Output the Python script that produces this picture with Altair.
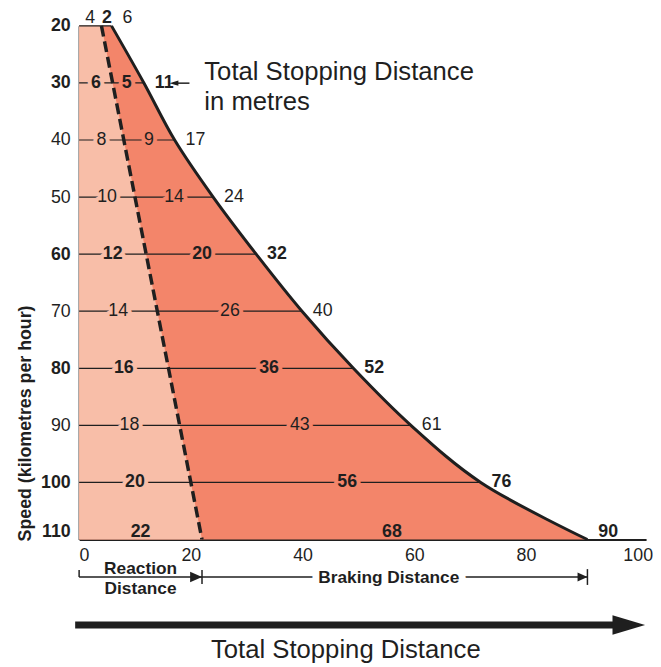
import altair as alt
import pandas as pd

# ---------------- data ----------------
speed = [20, 30, 40, 50, 60, 70, 80, 90, 100, 110]
reaction = [4, 6, 8, 10, 12, 14, 16, 18, 20, 22]
braking = [2, 5, 9, 14, 20, 26, 36, 43, 56, 68]
total = [6, 11, 17, 24, 32, 40, 52, 61, 76, 90]
# where the drawn total-distance curve crosses each speed line
curve = [5.8, 11.6, 17.1, 24.0, 31.7, 39.9, 49.1, 59.4, 71.9, 91.0]
x_ticks = [0, 20, 40, 60, 80, 100]

# ---------------- styling ----------------
BOLD_ROWS = [30, 60, 80, 100, 110]
BOLD_YLABELS = [20, 30, 60, 80, 100, 110]
LIGHT = "#F8BEA8"
DARK = "#F3856A"
INK = "#1f1f1f"
FONT = "Liberation Sans"
FS = 18

rows = pd.DataFrame({"speed": speed, "reaction": reaction, "braking": braking,
                     "total": total, "curve": curve})
rows["zero"] = 0

lab = []
for s, r, b, t, c in zip(speed, reaction, braking, total, curve):
    grp = "top" if s == speed[0] else ("bottom" if s == speed[-1] else "mid")
    bold = s in BOLD_ROWS
    lab.append(dict(speed=s, x=r / 2, text=str(r), kind="reaction",
                    weight="bold" if bold else "normal", group=grp))
    lab.append(dict(speed=s, x=r + b / 2, text=str(b), kind="braking",
                    weight="bold" if (bold or s == speed[0]) else "normal", group=grp))
    lab.append(dict(speed=s, x=c, text=str(t), kind="total",
                    weight="bold" if bold else "normal", group=grp))
labels = pd.DataFrame(lab)

dummy = pd.DataFrame({"k": [0]})

xs = alt.Scale(domain=[0, 101.5], nice=False, zero=False)
ys = alt.Scale(domain=[20, 110], reverse=True, nice=False, zero=False)

xaxis = alt.Axis(values=x_ticks, title=None, ticks=False, tickSize=0, grid=False,
                 domainColor=INK, domainWidth=2, labelFont=FONT, labelFontSize=FS,
                 labelColor=INK, labelPadding=7)
yaxis = alt.Axis(values=speed, title="Speed (kilometres per hour)", ticks=False, tickSize=0,
                 grid=False, domainColor=INK, domainWidth=2, labelFont=FONT,
                 labelFontSize=FS, labelColor=INK, labelPadding=9,
                 labelFontWeight={"condition": {"test": "indexof(%s, datum.value) >= 0" % BOLD_YLABELS,
                                                "value": "bold"}, "value": "normal"},
                 labelOffset={"condition": {"test": "datum.value == 110", "value": -8}, "value": 0},
                 titleFont=FONT, titleFontSize=18, titleFontWeight="bold", titleColor=INK,
                 titleAngle=270, titleX=-54, titleY=402, titleAlign="center",
                 titleBaseline="middle")


def X(field, **kw):
    return alt.X(field, type="quantitative", scale=xs, axis=xaxis, **kw)


def Y(field="speed"):
    return alt.Y(field, type="quantitative", scale=ys, axis=yaxis)


layers = []

# braking (dark) area: from 0 to the total-distance curve
layers.append(alt.Chart(rows).mark_area(orient="horizontal", color=DARK, opacity=1,
                                        interpolate="catmull-rom")
              .encode(x=X("zero"), x2="curve:Q", y=Y()))
# reaction (light) area
layers.append(alt.Chart(rows).mark_area(orient="horizontal", color=LIGHT, opacity=1)
              .encode(x=X("zero"), x2="reaction:Q", y=Y()))

# horizontal speed lines
layers.append(alt.Chart(rows).transform_filter("datum.speed < 110")
              .mark_rule(color=INK, strokeWidth=1.2)
              .encode(x=X("zero"), x2="curve:Q", y=Y()))

# reaction boundary (dashed)
layers.append(alt.Chart(rows).mark_line(color=INK, strokeWidth=3.5, strokeDash=[11, 5])
              .encode(x=X("reaction"), y=Y(), order="speed:Q"))
# total boundary
layers.append(alt.Chart(rows).mark_line(color=INK, strokeWidth=3, interpolate="catmull-rom")
              .encode(x=X("curve"), y=Y(), order="speed:Q"))

# halos behind labels on the lines
for kind, col in [("reaction", LIGHT), ("braking", DARK)]:
    for w in ["bold", "normal"]:
        layers.append(alt.Chart(labels)
                      .transform_filter(f"datum.group == 'mid' && datum.kind == '{kind}' && datum.weight == '{w}'")
                      .mark_text(font=FONT, fontSize=FS, fontWeight=w, stroke=col, fill=col,
                                 strokeWidth=8, strokeJoin="round", baseline="middle", align="center")
                      .encode(x=X("x"), y=Y(), text="text:N"))

# labels
DY = {"top": -8, "mid": 0, "bottom": -8}
for kind in ["reaction", "braking", "total"]:
    for w in ["bold", "normal"]:
        for g, dy in DY.items():
            if kind == "total":
                mk = dict(align="left", dx=11)
            else:
                mk = dict(align="center")
            layers.append(alt.Chart(labels)
                          .transform_filter(f"datum.group == '{g}' && datum.kind == '{kind}' && datum.weight == '{w}'")
                          .mark_text(font=FONT, fontSize=FS, fontWeight=w, color=INK,
                                     baseline="middle", dy=dy, **mk)
                          .encode(x=X("x"), y=Y(), text="text:N"))

# ---------------- annotations ----------------
# "Total Stopping Distance in metres" with small arrow
layers.append(alt.Chart(dummy).mark_text(font=FONT, fontSize=26, color=INK, align="left",
                                         baseline="alphabetic", lineHeight=30)
              .encode(x=alt.value(126.7), y=alt.value(54.7),
                      text=alt.value(["Total Stopping Distance", "in metres"])))
layers.append(alt.Chart(dummy).mark_rule(color=INK, strokeWidth=1.5)
              .encode(x=alt.value(95), x2=alt.value(111.7), y=alt.value(58)))
layers.append(alt.Chart(dummy).mark_point(shape="M 1 -0.6 L -1 0 L 1 0.6 Z", size=81, filled=True,
                                          color=INK, opacity=1, strokeWidth=0)
              .encode(x=alt.value(96), y=alt.value(58)))

# reaction distance bracket
r_end = reaction[-1]
b_end = curve[-1]
BF = 17.5
layers.append(alt.Chart(dummy).mark_rule(color=INK, strokeWidth=1.5)
              .encode(x=alt.X(datum=0, scale=xs, axis=xaxis), x2=alt.X2(datum=r_end), y=alt.value(558)))
layers.append(alt.Chart(dummy).mark_rule(color=INK, strokeWidth=1.5)
              .encode(x=alt.X(datum=0, scale=xs, axis=xaxis), y=alt.value(551), y2=alt.value(558)))
layers.append(alt.Chart(dummy).mark_point(shape="M -1 -0.9 L 1 0 L -1 0.9 Z", size=144, filled=True,
                                          color=INK, opacity=1, strokeWidth=0, xOffset=-6)
              .encode(x=alt.X(datum=r_end, scale=xs, axis=xaxis), y=alt.value(558)))
layers.append(alt.Chart(dummy).mark_rule(color=INK, strokeWidth=1.5)
              .encode(x=alt.X(datum=r_end, scale=xs, axis=xaxis), y=alt.value(551), y2=alt.value(565)))
layers.append(alt.Chart(dummy).mark_text(font=FONT, fontSize=BF, fontWeight="bold", color=INK,
                                         align="center", baseline="alphabetic", lineHeight=20)
              .encode(x=alt.X(datum=r_end / 2, scale=xs, axis=xaxis), y=alt.value(555),
                      text=alt.value(["Reaction", "Distance"])))

# braking distance arrow
layers.append(alt.Chart(dummy).mark_rule(color=INK, strokeWidth=1.5)
              .encode(x=alt.X(datum=r_end, scale=xs, axis=xaxis), x2=alt.X2(datum=b_end), y=alt.value(558)))
layers.append(alt.Chart(dummy).mark_point(shape="M -1 -0.9 L 1 0 L -1 0.9 Z", size=100, filled=True,
                                          color=INK, opacity=1, strokeWidth=0, xOffset=-5)
              .encode(x=alt.X(datum=b_end, scale=xs, axis=xaxis), y=alt.value(558)))
layers.append(alt.Chart(dummy).mark_rule(color=INK, strokeWidth=1.5)
              .encode(x=alt.X(datum=b_end, scale=xs, axis=xaxis), y=alt.value(550), y2=alt.value(566)))
layers.append(alt.Chart(dummy).mark_text(font=FONT, fontSize=BF, fontWeight="bold", color="white",
                                         stroke="white", strokeWidth=14, strokeJoin="round",
                                         align="center", baseline="middle", dy=1)
              .encode(x=alt.value(313.5), y=alt.value(558), text=alt.value("Braking Distance")))
layers.append(alt.Chart(dummy).mark_text(font=FONT, fontSize=BF, fontWeight="bold", color=INK,
                                         align="center", baseline="middle", dy=1)
              .encode(x=alt.value(313.5), y=alt.value(558), text=alt.value("Braking Distance")))

# big total stopping distance arrow
layers.append(alt.Chart(dummy).mark_rule(color=INK, strokeWidth=7)
              .encode(x=alt.value(-4), x2=alt.value(545), y=alt.value(606.5)))
layers.append(alt.Chart(dummy).mark_point(shape="M -1 -0.6 L 1 0 L -1 0.6 Z", size=1089, filled=True,
                                          color=INK, opacity=1, strokeWidth=0)
              .encode(x=alt.value(556.5), y=alt.value(606.5)))
layers.append(alt.Chart(dummy).mark_text(font=FONT, fontSize=26, color=INK, align="center",
                                         baseline="alphabetic")
              .encode(x=alt.value(270), y=alt.value(640), text=alt.value("Total Stopping Distance")))

chart = (alt.layer(*layers)
         .properties(width=574, height=520,
                     padding={"left": 72, "top": 14, "right": 7, "bottom": 125},
                     autosize=alt.AutoSizeParams(type="none"))
         .configure_view(stroke=None))

chart.save("out.html", embed_options={"renderer": "svg", "actions": False})
